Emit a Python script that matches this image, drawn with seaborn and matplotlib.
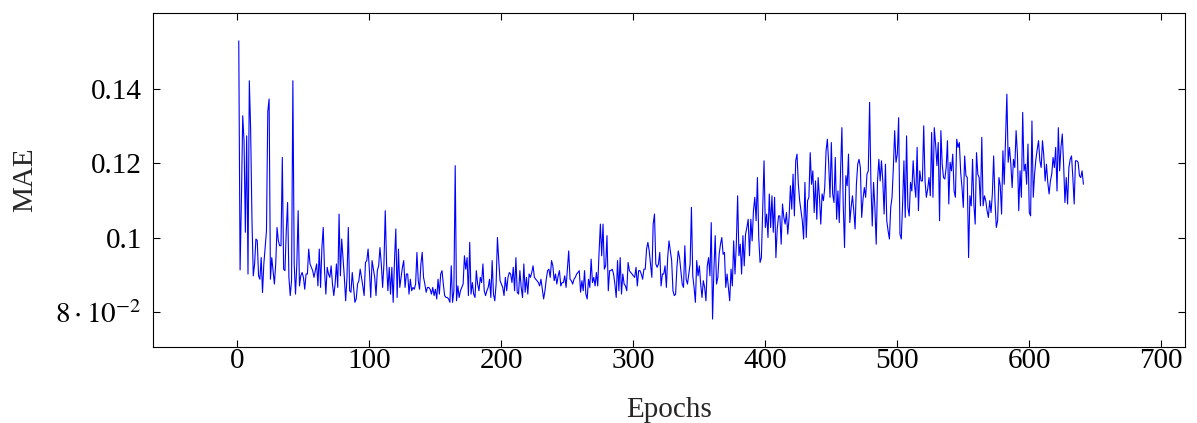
import numpy as np
import pandas as pd
import seaborn as sns
import matplotlib.pyplot as plt

# MAE per epoch (chunks of 100 epochs)
mae_001_100 = [
    0.1529, 0.0914, 0.1100, 0.1328, 0.1260, 0.1015, 0.1274, 0.0903, 0.1422, 0.1290,
    0.1050, 0.0898, 0.0930, 0.0997, 0.0993, 0.0898, 0.0889, 0.0947, 0.0853, 0.0930,
    0.0974, 0.1019, 0.1340, 0.1373, 0.0889, 0.0947, 0.0912, 0.0876, 0.0930, 0.1028,
    0.0992, 0.0979, 0.0979, 0.1216, 0.0916, 0.0912, 0.1019, 0.1095, 0.0894, 0.0845,
    0.0885, 0.1422, 0.0930, 0.0849, 0.0930, 0.1073, 0.0871, 0.0898, 0.0907, 0.0894,
    0.0862, 0.0903, 0.0903, 0.0970, 0.0930, 0.0921, 0.0912, 0.0894, 0.0912, 0.0930,
    0.0871, 0.0970, 0.0867, 0.0974, 0.1028, 0.0912, 0.0849, 0.0921, 0.0903, 0.0894,
    0.0925, 0.0876, 0.0845, 0.0876, 0.0930, 0.0867, 0.1064, 0.0898, 0.0997, 0.0947,
    0.0894, 0.0831, 0.0894, 0.1028, 0.0858, 0.0854, 0.0907, 0.0867, 0.0827, 0.0836,
    0.0876, 0.0885, 0.0916, 0.0894, 0.0871, 0.0845, 0.0934, 0.0939, 0.0970, 0.0912,
]
mae_101_200 = [
    0.0840, 0.0939, 0.0916, 0.0894, 0.0845, 0.0912, 0.0925, 0.0974, 0.0930, 0.0867,
    0.0930, 0.1073, 0.0930, 0.0858, 0.0921, 0.0849, 0.0921, 0.0827, 0.0939, 0.1024,
    0.0840, 0.0970, 0.0867, 0.0894, 0.0921, 0.0939, 0.0867, 0.0903, 0.0903, 0.0849,
    0.0889, 0.0858, 0.0867, 0.0862, 0.0876, 0.0961, 0.0885, 0.0862, 0.0930, 0.0961,
    0.0894, 0.0876, 0.0854, 0.0867, 0.0867, 0.0862, 0.0849, 0.0867, 0.0845, 0.0862,
    0.0836, 0.0889, 0.0849, 0.0903, 0.0912, 0.0876, 0.0845, 0.0840, 0.0840, 0.0836,
    0.0827, 0.0925, 0.0827, 0.0858, 0.1194, 0.0831, 0.0871, 0.0840, 0.0858, 0.0867,
    0.0876, 0.0952, 0.0916, 0.0947, 0.0845, 0.0988, 0.0849, 0.0880, 0.0849, 0.0840,
    0.0912, 0.0876, 0.0858, 0.0894, 0.0880, 0.0930, 0.0858, 0.0845, 0.0858, 0.0867,
    0.0889, 0.0840, 0.0939, 0.0849, 0.0831, 0.0876, 0.1001, 0.0939, 0.0885, 0.0876,
]
mae_201_300 = [
    0.0867, 0.0845, 0.0894, 0.0858, 0.0894, 0.0907, 0.0903, 0.0880, 0.0921, 0.0858,
    0.0947, 0.0854, 0.0849, 0.0912, 0.0867, 0.0840, 0.0930, 0.0854, 0.0894, 0.0849,
    0.0903, 0.0894, 0.0907, 0.0925, 0.0894, 0.0889, 0.0885, 0.0880, 0.0871, 0.0889,
    0.0862, 0.0836, 0.0858, 0.0889, 0.0912, 0.0916, 0.0894, 0.0939, 0.0925, 0.0885,
    0.0903, 0.0876, 0.0898, 0.0912, 0.0871, 0.0880, 0.0880, 0.0898, 0.0867, 0.0916,
    0.0965, 0.0889, 0.0885, 0.0876, 0.0889, 0.0894, 0.0903, 0.0907, 0.0912, 0.0854,
    0.0885, 0.0858, 0.0912, 0.0849, 0.0836, 0.0889, 0.0867, 0.0943, 0.0880, 0.0894,
    0.0871, 0.0907, 0.0871, 0.0961, 0.1037, 0.0952, 0.1037, 0.0916, 0.0925, 0.1006,
    0.0858, 0.0912, 0.0912, 0.0916, 0.0903, 0.0876, 0.0840, 0.0939, 0.0858, 0.0947,
    0.0849, 0.0903, 0.0876, 0.0871, 0.0858, 0.0934, 0.0912, 0.0907, 0.0903, 0.0898,
]
mae_301_400 = [
    0.0894, 0.0921, 0.0871, 0.0912, 0.0912, 0.0903, 0.0889, 0.0916, 0.0916, 0.0970,
    0.0988, 0.0965, 0.0930, 0.0894, 0.1037, 0.1064, 0.0930, 0.0921, 0.0930, 0.0961,
    0.0871, 0.0903, 0.0903, 0.0925, 0.0867, 0.0947, 0.0992, 0.0965, 0.0939, 0.0858,
    0.0845, 0.0849, 0.0921, 0.0965, 0.0947, 0.0912, 0.0876, 0.0867, 0.0979, 0.0889,
    0.0876, 0.0903, 0.0930, 0.1082, 0.0898, 0.0867, 0.0827, 0.0939, 0.0898, 0.0925,
    0.0876, 0.0840, 0.0885, 0.0867, 0.0831, 0.0925, 0.0947, 0.0898, 0.1041, 0.0782,
    0.0912, 0.1006, 0.0876, 0.0894, 0.0956, 0.0983, 0.1001, 0.0956, 0.0961, 0.0867,
    0.0903, 0.0867, 0.0831, 0.0916, 0.0871, 0.0992, 0.0903, 0.0983, 0.1113, 0.0952,
    0.0983, 0.0903, 0.1006, 0.0925, 0.1010, 0.1028, 0.1050, 0.0952, 0.1050, 0.0992,
    0.1073, 0.1109, 0.1046, 0.1162, 0.1000, 0.0934, 0.0947, 0.1082, 0.1207, 0.1028,
]
mae_401_500 = [
    0.1064, 0.1001, 0.1118, 0.1028, 0.1113, 0.1015, 0.1109, 0.0947, 0.1024, 0.1059,
    0.1059, 0.0983, 0.1091, 0.1055, 0.1037, 0.1068, 0.1010, 0.1055, 0.1140, 0.1077,
    0.1171, 0.1059, 0.1207, 0.1225, 0.1144, 0.1100, 0.1073, 0.1046, 0.0997, 0.1149,
    0.1001, 0.1100, 0.1109, 0.1229, 0.1144, 0.1180, 0.1068, 0.1153, 0.1050, 0.1162,
    0.1109, 0.1037, 0.1118, 0.1100, 0.1135, 0.1234, 0.1265, 0.1198, 0.1109, 0.1256,
    0.1118, 0.1095, 0.1216, 0.1050, 0.1126, 0.1041, 0.1180, 0.1296, 0.1091, 0.0974,
    0.1167, 0.1140, 0.1225, 0.1041, 0.1082, 0.1113, 0.1073, 0.1024, 0.1144, 0.1198,
    0.1211, 0.1189, 0.1055, 0.1104, 0.1135, 0.1109, 0.1171, 0.1180, 0.1364, 0.1144,
    0.1032, 0.1149, 0.1082, 0.0983, 0.1153, 0.1211, 0.1153, 0.1207, 0.1153, 0.1064,
    0.1198, 0.1046, 0.1019, 0.0997, 0.1082, 0.1109, 0.1189, 0.1288, 0.1203, 0.1225,
]
mae_501_600 = [
    0.1323, 0.1010, 0.0997, 0.1091, 0.1207, 0.1055, 0.1274, 0.1082, 0.1059, 0.1149,
    0.1126, 0.1207, 0.1144, 0.1109, 0.1243, 0.1073, 0.1180, 0.1153, 0.1153, 0.1301,
    0.1153, 0.1109, 0.1131, 0.1162, 0.1113, 0.1283, 0.1109, 0.1296, 0.1252, 0.1194,
    0.1256, 0.1046, 0.1288, 0.1198, 0.1162, 0.1158, 0.1189, 0.1261, 0.1091, 0.1203,
    0.1180, 0.1225, 0.1126, 0.1109, 0.1265, 0.1243, 0.1256, 0.1176, 0.1135, 0.1082,
    0.1220, 0.1167, 0.1162, 0.0947, 0.1113, 0.1086, 0.1211, 0.1091, 0.1037, 0.1229,
    0.1171, 0.1162, 0.1086, 0.1270, 0.1086, 0.1113, 0.1100, 0.1073, 0.1055, 0.1100,
    0.1068, 0.1118, 0.1220, 0.1100, 0.1028, 0.1046, 0.1162, 0.1140, 0.1064, 0.1234,
    0.1144, 0.1261, 0.1386, 0.1203, 0.1243, 0.1198, 0.1135, 0.1211, 0.1189, 0.1288,
    0.1225, 0.1073, 0.1180, 0.1109, 0.1337, 0.1180, 0.1198, 0.1144, 0.1252, 0.1068,
]
mae_601_641 = [
    0.1059, 0.1314, 0.1109, 0.1171, 0.1211, 0.1238, 0.1261, 0.1207, 0.1189, 0.1261,
    0.1220, 0.1153, 0.1198, 0.1149, 0.1118, 0.1153, 0.1171, 0.1216, 0.1189, 0.1243,
    0.1126, 0.1296, 0.1180, 0.1243, 0.1279, 0.1198, 0.1095, 0.1162, 0.1091, 0.1189,
    0.1211, 0.1220, 0.1162, 0.1091, 0.1207, 0.1207, 0.1203, 0.1167, 0.1162, 0.1180,
    0.1144,
]

x_ticks = [0, 100, 200, 300, 400, 500, 600, 700]
y_ticks = [0.08, 0.10, 0.12, 0.14]
y_tick_labels = [r'$8\cdot10^{-2}$', '0.1', '0.12', '0.14']

mae = (mae_001_100 + mae_101_200 + mae_201_300 + mae_301_400
       + mae_401_500 + mae_501_600 + mae_601_641)
df = pd.DataFrame({'epoch': np.arange(1, len(mae) + 1), 'mae': mae})

sns.set_style('ticks')
plt.rcParams['font.family'] = ['Liberation Serif', 'DejaVu Serif']
plt.rcParams['mathtext.fontset'] = 'stix'

fig = plt.figure(figsize=(11.97, 4.23), dpi=100)
ax = fig.add_axes([0.1278, 0.1797, 0.8622, 0.7896])

sns.lineplot(data=df, x='epoch', y='mae', color='blue', linewidth=0.8, ax=ax)

ax.set_xlim(-64, 718)
ax.set_ylim(0.0707, 0.1604)
ax.set_xticks(x_ticks)
ax.set_xticklabels([str(t) for t in x_ticks])
ax.set_yticks(y_ticks)
ax.set_yticklabels(y_tick_labels)
ax.tick_params(direction='in', length=5, width=0.8, top=True, right=True,
               labelsize=21, colors='black')
ax.tick_params(axis='y', pad=8)
ax.tick_params(axis='x', pad=1)
for s in ax.spines.values():
    s.set_linewidth(0.8)
    s.set_color('black')
ax.set_xlabel('Epochs', fontsize=21, labelpad=16)
ax.set_ylabel('MAE', fontsize=21, labelpad=12)

fig.savefig('out.png', dpi=100)
